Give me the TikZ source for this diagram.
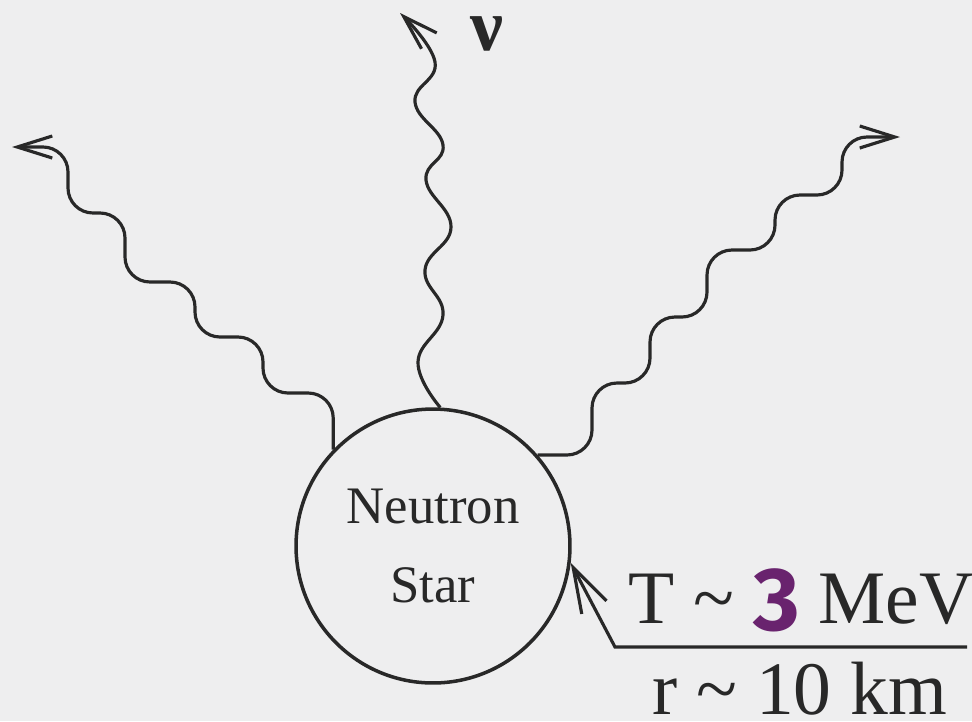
\documentclass[tikz,border=0pt]{standalone}
\usepackage{fontspec}
\setmainfont{Liberation Serif}
\newfontfamily\digitfont{Fira Sans}
\usepackage{xcolor}
\usepackage{tikz}
\usetikzlibrary{arrows.meta}
\definecolor{paper}{RGB}{238,238,239}
\definecolor{ink}{RGB}{40,40,40}
\definecolor{markerpurple}{RGB}{105,35,110}
\tikzset{
  starbody/.style={draw=ink, circle, line width=2pt, inner sep=0pt, minimum size=5.48cm, align=center, text=ink, font=\fontsize{30}{45}\selectfont},
  nuline/.style={ink, line width=1.8pt, -{Straight Barb[length=7mm,width=4.4mm]}},
  stairs/.style={nuline, rounded corners=0.5cm},
  pointer/.style={ink, line width=1.8pt, -{Straight Barb[length=9mm,width=5.6mm]}},
  label/.style={anchor=base west, inner sep=0pt, text depth=0pt, text=ink, font=\fontsize{43}{50}\selectfont}
}

\begin{document}
\begin{tikzpicture}[x=0.02cm,y=-0.02cm]
\fill[paper] (0,0) rectangle (972,721);
\useasboundingbox (0,0) rectangle (972,721);

\node[starbody] (star) at (433,546) {Neutron\\Star};
\coordinate (nuL) at (12,147);
\coordinate (nuM) at (400,13);
\coordinate (nuR) at (900,137);

% neutrinos leaving the star
\draw[stairs] (star.136) |- (263,393) |- (195,337) |- (125,282) |- (68,213) |- (nuL);
\draw[nuline] plot[smooth, tension=0.75] coordinates {(star.87) (418,362) (443,315) (425,270) (451,227) (426,180) (443,145) (415,102) (435,62) (nuM)};
\draw[stairs] (star.41) -| (592,383) -| (650,317) -| (707,250) -| (775,195) -| (842,137) -- (nuR);
\node[anchor=base, inner sep=0pt, text height=0.76cm, text depth=0pt, text=ink, font=\fontsize{42}{48}\selectfont\bfseries] (nu) at (487,50) {ν};

% surface labels
\coordinate (kink) at (615,647);
\coordinate (rule) at (967,647);
\draw[pointer] (rule) -- (kink) -- (star.-7);
\node[label] (temp) at (628,623) {T \textasciitilde{} \raisebox{-0.14cm}{\digitfont\bfseries\fontsize{51}{55}\selectfont\color{markerpurple}3} MeV};
\node[label] (radius) at (652,714) {r \textasciitilde{} 10 km};
\end{tikzpicture}
\end{document}
